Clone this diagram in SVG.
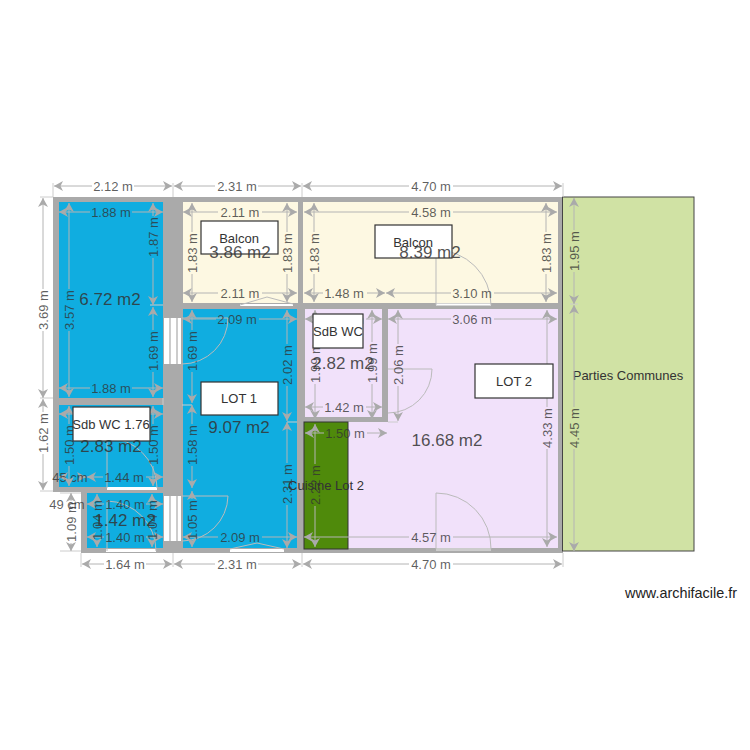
<svg xmlns="http://www.w3.org/2000/svg" width="750" height="750" viewBox="0 0 750 750">
<style>
text{font-family:"Liberation Sans",Arial,sans-serif;text-anchor:middle;dominant-baseline:central}
.d{font-size:13px;fill:#333;fill-opacity:.78}
.a{font-size:17px;fill:#333;fill-opacity:.85}
.n{font-size:13px;fill:#333}
.dim{fill:none;stroke:#b4b4b4;stroke-width:1;marker-start:url(#ar);marker-end:url(#ar)}
.ext{fill:none;stroke:#ccc;stroke-width:1}
.door{fill:none;stroke:#bbb;stroke-width:1}
.box{fill:#fff;stroke:#333;stroke-width:1.2}
.wall{fill:#aaa}
.win{fill:#fff}
</style>
<defs>
<marker id="ar" markerUnits="userSpaceOnUse" markerWidth="10" markerHeight="12" refX="9" refY="6" orient="auto-start-reverse"><path d="M9 6L0 1L2.500 6L0 11Z" fill="#aaa"/></marker>
</defs>
<rect width="750" height="750" fill="#fff"/>
<g id="walls">
<path class="wall" d="M53 197H563V553H81V492H53Z"/>
<rect class="win" x="164" y="318" width="17" height="46"/>
<rect class="win" x="164" y="496" width="17" height="45"/>
<path fill="none" stroke="#ccc" stroke-width="2" d="M170 318V364M177 318V364M170 496V541M177 496V541"/>
<rect class="win" x="240" y="304" width="53" height="2"/>
<rect class="win" x="436" y="303.500" width="55" height="2"/>
<rect class="win" x="107" y="487" width="50" height="3"/>
<rect class="win" x="106" y="549" width="50" height="3"/>
<rect class="win" x="230" y="549" width="54" height="3"/>
<rect x="436" y="548" width="55" height="3" fill="#ccc"/>
</g>
<g id="room-left-blue"><rect x="59" y="202" width="104" height="196" fill="#10ade0"/><text class="a" x="110" y="299">6.72 m2</text></g>
<g id="room-sdb"><rect x="59" y="405" width="104" height="82" fill="#10ade0"/></g>
<g id="room-small"><rect x="87" y="493" width="76" height="55" fill="#10ade0"/></g>
<g id="room-balcon1"><rect x="183" y="202" width="115" height="101" fill="#fdf8e2"/></g>
<g id="room-balcon2"><rect x="303" y="202" width="255" height="101" fill="#fdf8e2"/></g>
<g id="room-lot1"><rect x="183" y="309" width="114" height="239" fill="#10ade0"/></g>
<g id="room-wc"><rect x="305" y="309" width="77" height="108" fill="#f1e1fa"/></g>
<g id="room-lot2"><path d="M388 309H558V548H348V422H388Z" fill="#f1e1fa"/></g>
<g id="room-cuisine"><rect x="304" y="422" width="44" height="127" fill="#4f8a0b" stroke="#333" stroke-width="1"/></g>
<g id="parties-communes"><rect x="562.500" y="197" width="131.500" height="354" fill="#d0e2a4" stroke="#444" stroke-width="1"/><text class="n" x="628" y="375">Parties Communes</text></g>
<g id="doors">
<path class="door" d="M436 305V250A55 55 0 0 1 491 305"/>
<path class="door" d="M182 318H228A46 46 0 0 1 182 364"/>
<path class="door" d="M182 496H228A46 46 0 0 1 182 541"/>
<path class="door" d="M107 488V438A50 50 0 0 1 157 488"/>
<path class="door" d="M107 551V501A50 50 0 0 1 156 551"/>
<path class="door" d="M388 369H432A44 44 0 0 1 388 413"/>
<path class="door" d="M436 549V493A55 55 0 0 1 491 549"/>
<path class="door" d="M240 305L267 297L293 304M230 549L257 543L284 549"/>
</g>
<g id="connectors">
<path class="ext" d="M53 183V197M173 183V197M302 183V197M563 183V197M40 197H53M40 398H53M40 491H53M60 493H81M60 551H81M81 553V567M173 553V567M302 553V567M563 553V567M150 305H163M163 398V405M570 304H578M182 405H192M388 422H398M287 422H297"/>
<path class="dim" d="M54 186H92M134 186H172"/><text class="d" x="113" y="186">2.12 m</text>
<path class="dim" d="M174 186H215M258 186H301"/><text class="d" x="237" y="186">2.31 m</text>
<path class="dim" d="M303 186H409M453 186H562"/><text class="d" x="431" y="186">4.70 m</text>
<path class="dim" d="M59 212H90M132 212H163"/><text class="d" x="111" y="212">1.88 m</text>
<path class="dim" d="M183 212H218M262 212H297"/><text class="d" x="240" y="212">2.11 m</text>
<path class="dim" d="M304 212H409M453 212H557"/><text class="d" x="431" y="212">4.58 m</text>
<path class="dim" d="M183 293H218M262 293H297"/><text class="d" x="240" y="293">2.11 m</text>
<path class="dim" d="M304 293H323M367 293H385"/><text class="d" x="344" y="293">1.48 m</text>
<path class="dim" d="M386 293H451M494 293H557"/><text class="d" x="472" y="293">3.10 m</text>
<path class="dim" d="M183 319H216M259 319H297"/><text class="d" x="237" y="319">2.09 m</text>
<path class="dim" d="M305 319H323M366 319H382"/><text class="d" x="344" y="319">1.42 m</text>
<path class="dim" d="M388 319H451M494 319H557"/><text class="d" x="472" y="319">3.06 m</text>
<path class="dim" d="M59 388H90M132 388H163"/><text class="d" x="111" y="388">1.88 m</text>
<path class="dim" d="M59 414H90M132 414H163"/><text class="d" x="111" y="414">1.88 m</text>
<path class="dim" d="M87 477H103M146 477H163"/><text class="d" x="124" y="477">1.44 m</text>
<path class="dim" d="M59 477H60M84 477H86"/><text class="d" x="70" y="477">45 cm</text>
<path class="dim" d="M87 504H104M146 504H163"/><text class="d" x="125" y="504">1.40 m</text>
<path class="dim" d="M87 537H104M146 537H163"/><text class="d" x="125" y="537">1.40 m</text>
<text class="d" x="67" y="504">49 cm</text>
<path class="dim" d="M183 537H218M262 537H297"/><text class="d" x="240" y="537">2.09 m</text>
<path class="dim" d="M304 537H409M453 537H557"/><text class="d" x="431" y="537">4.57 m</text>
<path class="dim" d="M82 564H104M146 564H172"/><text class="d" x="125" y="564">1.64 m</text>
<path class="dim" d="M174 564H215M258 564H301"/><text class="d" x="237" y="564">2.31 m</text>
<path class="dim" d="M303 564H409M453 564H562"/><text class="d" x="431" y="564">4.70 m</text>
<path class="dim" d="M305 407H323M366 407H382"/><text class="d" x="344" y="407">1.42 m</text>
<path class="dim" d="M305 433H324M367 433H387"/><text class="d" x="345" y="433">1.50 m</text>
<path class="dim" d="M43 198V289M43 331V398"/><text class="d" transform="rotate(-90 43 310)" x="43" y="310">3.69 m</text>
<path class="dim" d="M43 399V412M43 454V490"/><text class="d" transform="rotate(-90 43 433)" x="43" y="433">1.62 m</text>
<path class="dim" d="M71 493V501M71 543V551"/><text class="d" transform="rotate(-90 71 522)" x="71" y="522">1.09 m</text>
<path class="dim" d="M69 203V289M69 331V397"/><text class="d" transform="rotate(-90 69 310)" x="69" y="310">3.57 m</text>
<path class="dim" d="M153 203V216M153 258V305"/><text class="d" transform="rotate(-90 153 237)" x="153" y="237">1.87 m</text>
<path class="dim" d="M153 307V330M153 372V397"/><text class="d" transform="rotate(-90 153 351)" x="153" y="351">1.69 m</text>
<path class="dim" d="M69 406V424M69 466V486"/><text class="d" transform="rotate(-90 69 445)" x="69" y="445">1.50 m</text>
<path class="dim" d="M153 406V424M153 466V486"/><text class="d" transform="rotate(-90 153 445)" x="153" y="445">1.50 m</text>
<path class="dim" d="M97 494V499M97 541V547"/><text class="d" transform="rotate(-90 97 520)" x="97" y="520">1.04 m</text>
<path class="dim" d="M152 494V499M152 541V547"/><text class="d" transform="rotate(-90 152 520)" x="152" y="520">1.04 m</text>
<path class="dim" d="M192 203V232M192 274V302"/><text class="d" transform="rotate(-90 192 253)" x="192" y="253">1.83 m</text>
<path class="dim" d="M287 203V232M287 274V302"/><text class="d" transform="rotate(-90 287 253)" x="287" y="253">1.83 m</text>
<path class="dim" d="M314 203V232M314 274V302"/><text class="d" transform="rotate(-90 314 253)" x="314" y="253">1.83 m</text>
<path class="dim" d="M546 203V232M546 274V302"/><text class="d" transform="rotate(-90 546 253)" x="546" y="253">1.83 m</text>
<path class="dim" d="M192 310V330M192 372V403"/><text class="d" transform="rotate(-90 192 351)" x="192" y="351">1.69 m</text>
<path class="dim" d="M192 405V424M192 466V488"/><text class="d" transform="rotate(-90 192 445)" x="192" y="445">1.58 m</text>
<path class="dim" d="M192 491V499M192 541V547"/><text class="d" transform="rotate(-90 192 520)" x="192" y="520">1.05 m</text>
<path class="dim" d="M287 310V344M287 386V421"/><text class="d" transform="rotate(-90 287 365)" x="287" y="365">2.02 m</text>
<path class="dim" d="M287 422V463M287 505V548"/><text class="d" transform="rotate(-90 287 484)" x="287" y="484">2.31 m</text>
<path class="dim" d="M315 310V342M315 384V419"/><text class="d" transform="rotate(-90 315 363)" x="315" y="363">1.99 m</text>
<path class="dim" d="M372 310V342M372 384V419"/><text class="d" transform="rotate(-90 372 363)" x="372" y="363">1.99 m</text>
<path class="dim" d="M398 310V344M398 386V421"/><text class="d" transform="rotate(-90 398 365)" x="398" y="365">2.06 m</text>
<path class="dim" d="M315 424V464M315 506V547"/><text class="d" transform="rotate(-90 315 485)" x="315" y="485">2.22 m</text>
<path class="dim" d="M547 310V407M547 449V547"/><text class="d" transform="rotate(-90 547 428)" x="547" y="428">4.33 m</text>
<path class="dim" d="M574 198V230M574 272V304"/><text class="d" transform="rotate(-90 574 251)" x="574" y="251">1.95 m</text>
<path class="dim" d="M574 305V407M574 449V551"/><text class="d" transform="rotate(-90 574 428)" x="574" y="428">4.45 m</text>
</g>
<g id="label-balcon1"><rect class="box" x="201" y="221" width="77" height="33"/><text class="n" x="239" y="238">Balcon</text><text class="a" x="240" y="252">3.86 m2</text></g>
<g id="label-balcon2"><rect class="box" x="375" y="225" width="77" height="33"/><text class="n" x="413" y="242">Balcon</text><text class="a" x="430" y="252">8.39 m2</text></g>
<g id="label-sdb-wc"><rect class="box" x="313" y="314" width="50" height="34"/><text class="n" x="338" y="331">SdB WC</text><text class="a" x="343" y="363">2.82 m2</text></g>
<g id="label-sdb-wc-176"><rect class="box" x="73" y="407" width="77" height="34"/><text class="n" x="111" y="424">Sdb WC  1.76</text><text class="a" x="111" y="446">2.83 m2</text></g>
<g id="label-small"><text class="a" x="125" y="520">1.42 m2</text></g>
<g id="label-lot1"><rect class="box" x="201" y="382" width="77" height="33"/><text class="n" x="239" y="398">LOT 1</text><text class="a" x="239" y="427">9.07 m2</text></g>
<g id="label-lot2"><rect class="box" x="475" y="364" width="78" height="34"/><text class="n" x="514" y="381">LOT 2</text><text class="a" x="447" y="440">16.68 m2</text></g>
<g id="label-cuisine"><text class="n" x="326" y="485">Cuisine Lot 2</text></g>
<text x="681" y="593" font-size="14.400" fill="#222">www.archifacile.fr</text>
</svg>
